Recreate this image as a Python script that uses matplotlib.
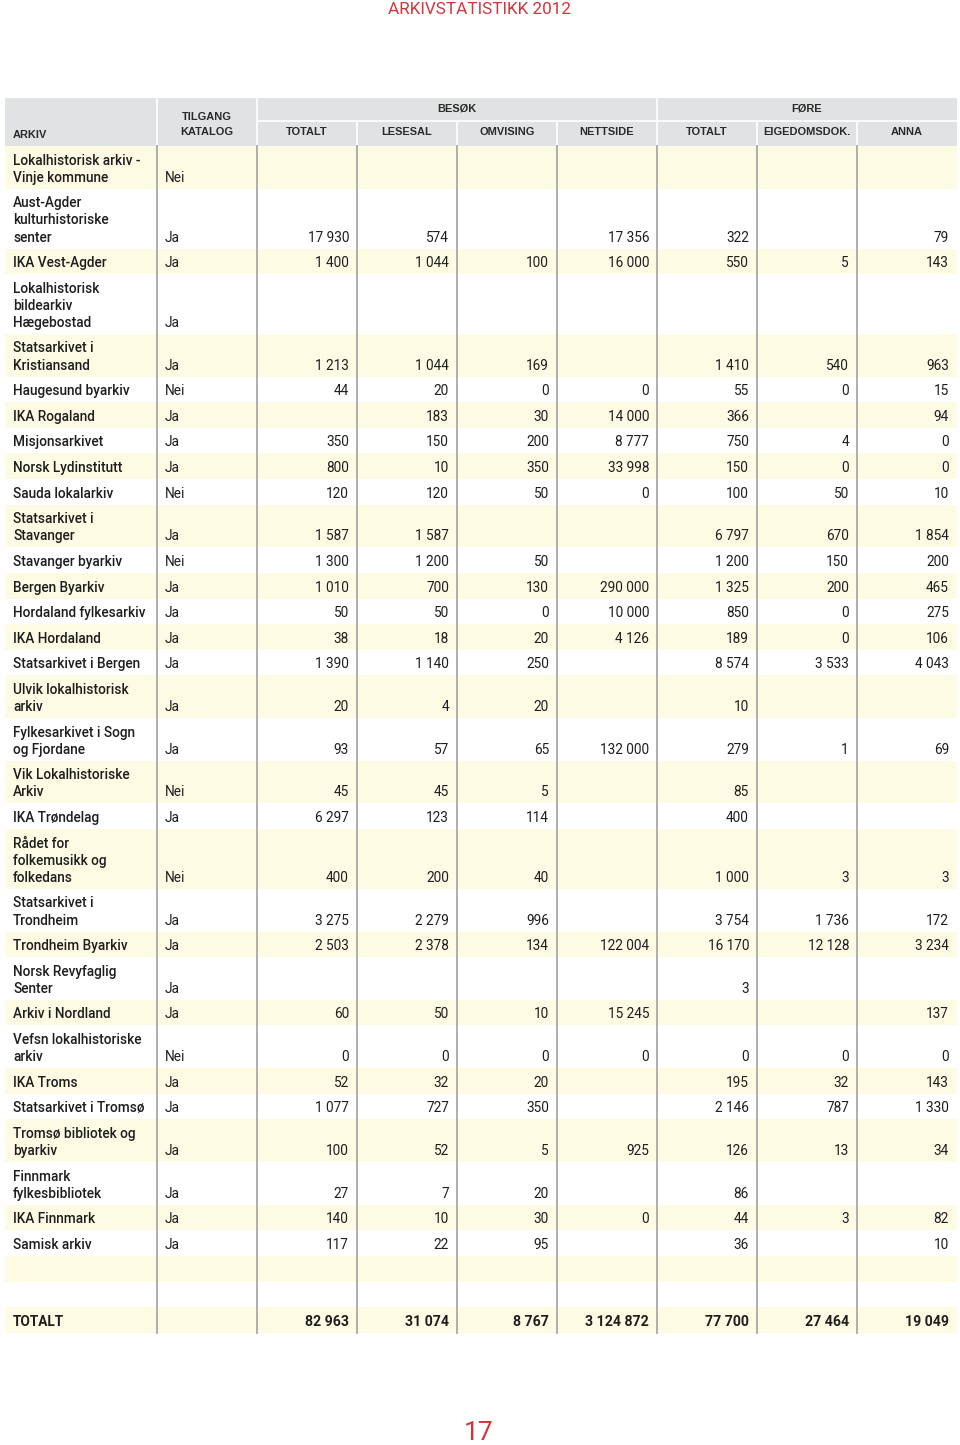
import matplotlib.pyplot as plt
from matplotlib.patches import Rectangle

plt.rcParams['font.family'] = ['Roboto', 'DejaVu Sans']

names = ['Lokalhistorisk arkiv -\nVinje kommune', 'Aust-Agder\nkulturhistoriske\nsenter',
         'IKA Vest-Agder', 'Lokalhistorisk\nbildearkiv\nHægebostad', 'Statsarkivet i\nKristiansand',
         'Haugesund byarkiv', 'IKA Rogaland', 'Misjonsarkivet', 'Norsk Lydinstitutt',
         'Sauda lokalarkiv', 'Statsarkivet i\nStavanger', 'Stavanger byarkiv', 'Bergen Byarkiv',
         'Hordaland fylkesarkiv', 'IKA Hordaland', 'Statsarkivet i Bergen',
         'Ulvik lokalhistorisk\narkiv', 'Fylkesarkivet i Sogn\nog Fjordane', 'Vik Lokalhistoriske\nArkiv',
         'IKA Trøndelag', 'Rådet for\nfolkemusikk og\nfolkedans', 'Statsarkivet i\nTrondheim',
         'Trondheim Byarkiv', 'Norsk Revyfaglig\nSenter', 'Arkiv i Nordland',
         'Vefsn lokalhistoriske\narkiv', 'IKA Troms', 'Statsarkivet i Tromsø',
         'Tromsø bibliotek og\nbyarkiv', 'Finnmark\nfylkesbibliotek', 'IKA Finnmark', 'Samisk arkiv']
katalog = ['Nei', 'Ja', 'Ja', 'Ja', 'Ja', 'Nei', 'Ja', 'Ja', 'Ja', 'Nei', 'Ja', 'Nei', 'Ja',
           'Ja', 'Ja', 'Ja', 'Ja', 'Ja', 'Nei', 'Ja', 'Nei', 'Ja', 'Ja', 'Ja', 'Ja', 'Nei',
           'Ja', 'Ja', 'Ja', 'Ja', 'Ja', 'Ja']
N = None
besok_totalt = [N, 17930, 1400, N, 1213, 44, N, 350, 800, 120, 1587, 1300, 1010, 50, 38, 1390,
                20, 93, 45, 6297, 400, 3275, 2503, N, 60, 0, 52, 1077, 100, 27, 140, 117]
lesesal = [N, 574, 1044, N, 1044, 20, 183, 150, 10, 120, 1587, 1200, 700, 50, 18, 1140,
           4, 57, 45, 123, 200, 2279, 2378, N, 50, 0, 32, 727, 52, 7, 10, 22]
omvising = [N, N, 100, N, 169, 0, 30, 200, 350, 50, N, 50, 130, 0, 20, 250,
            20, 65, 5, 114, 40, 996, 134, N, 10, 0, 20, 350, 5, 20, 30, 95]
nettside = [N, 17356, 16000, N, N, 0, 14000, 8777, 33998, 0, N, N, 290000, 10000, 4126, N,
            N, 132000, N, N, N, N, 122004, N, 15245, 0, N, N, 925, N, 0, N]
fore_totalt = [N, 322, 550, N, 1410, 55, 366, 750, 150, 100, 6797, 1200, 1325, 850, 189, 8574,
               10, 279, 85, 400, 1000, 3754, 16170, 3, N, 0, 195, 2146, 126, 86, 44, 36]
eigedomsdok = [N, N, 5, N, 540, 0, N, 4, 0, 50, 670, 150, 200, 0, 0, 3533,
               N, 1, N, N, 3, 1736, 12128, N, N, 0, 32, 787, 13, N, 3, N]
anna = [N, 79, 143, N, 963, 15, 94, 0, 0, 10, 1854, 200, 465, 275, 106, 4043,
        N, 69, N, N, 3, 172, 3234, N, 137, 0, 143, 1330, 34, N, 82, 10]
totals = [82963, 31074, 8767, 3124872, 77700, 27464, 19049]

sub_headers = ['TOTALT', 'LESESAL', 'OMVISING', 'NETTSIDE', 'TOTALT', 'EIGEDOMSDOK.', 'ANNA']
value_cols = [besok_totalt, lesesal, omvising, nettside, fore_totalt, eigedomsdok, anna]

RED = '#d2343a'
YELLOW = '#fdfbe3'
GREY = '#e1e2e3'
TXT = '#1e1e1e'
LINE = '#a8a8a8'


def fmt(v):
    if v is None:
        return ''
    return f'{v:,}'.replace(',', ' ')


fig = plt.figure(figsize=(9.6, 14.45), dpi=100)
ax = fig.add_axes([0, 0, 1, 1])
ax.set_xlim(0, 960)
ax.set_ylim(1445, 0)
ax.axis('off')

x0, x1 = 5, 957
col_edges = [5, 157, 257, 357, 457, 557, 657, 757, 857, 957]
pad, pitch = 8.5, 17.1
fs = 9.8

# title and page number
ax.text(479, 9, 'ARKIVSTATISTIKK 2012', color=RED, fontsize=12.3, ha='center', va='center')
ax.text(479, 1433, '17', color=RED, fontsize=19, ha='center', va='center')

# header
h0, hmid, h1 = 98, 121, 146
ax.add_patch(Rectangle((x0, h0), x1 - x0, h1 - h0, color=GREY, lw=0))
ax.plot([257, x1], [hmid, hmid], color='white', lw=1.2)
for xe in [157, 257, 657]:
    ax.plot([xe, xe], [h0, h1], color='white', lw=1.2)
for xe in [357, 457, 557, 757, 857]:
    ax.plot([xe, xe], [hmid, h1], color='white', lw=1.2)
hfont = dict(fontsize=7.9, fontweight='bold', family='Liberation Sans', color='#2a2a2a',
             va='center')
ax.text(13, 135, 'ARKIV', **hfont)
ax.text(207, 117, 'TILGANG', ha='center', **hfont)
ax.text(207, 132, 'KATALOG', ha='center', **hfont)
ax.text(457, 109, 'BESØK', ha='center', **hfont)
ax.text(807, 109, 'FØRE', ha='center', **hfont)
for i, lab in enumerate(sub_headers):
    xc = (col_edges[i + 2] + col_edges[i + 3]) / 2
    ax.text(xc, 132, lab, ha='center', **hfont)

# body rows
y = h1
for r, name in enumerate(names):
    n_lines = name.count('\n') + 1
    h = pad + pitch * n_lines
    if r % 2 == 0:
        ax.add_patch(Rectangle((x0, y), x1 - x0, h, color=YELLOW, lw=0))
    base = y + h - 7
    for k, line in enumerate(name.split('\n')):
        ax.text(13, base - pitch * (n_lines - 1 - k), line, fontsize=fs, fontweight='medium',
                color=TXT, va='baseline')
    ax.text(165, base, katalog[r], fontsize=fs, color=TXT, va='baseline')
    for c, col in enumerate(value_cols):
        ax.text(col_edges[c + 3] - 8, base, fmt(col[r]), fontsize=fs, color=TXT,
                ha='right', va='baseline')
    y += h

# two empty rows and the total row
hs = pad + pitch
ax.add_patch(Rectangle((x0, y), x1 - x0, hs, color=YELLOW, lw=0))
y += 2 * hs
ax.add_patch(Rectangle((x0, y), x1 - x0, hs, color=YELLOW, lw=0))
base = y + hs - 7
ax.text(13, base, 'TOTALT', fontsize=fs, fontweight='bold', color=TXT, va='baseline')
for c, v in enumerate(totals):
    ax.text(col_edges[c + 3] - 8, base, fmt(v), fontsize=10.2, fontweight='bold', color=TXT,
            ha='right', va='baseline')
y_end = y + hs

for xe in col_edges[1:-1]:
    ax.plot([xe, xe], [h1, y_end], color=LINE, lw=1.3)

fig.savefig('out.png', dpi=100)
